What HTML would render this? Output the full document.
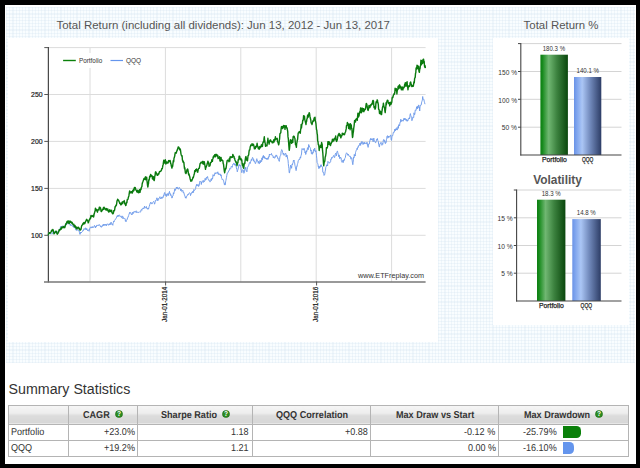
<!DOCTYPE html>
<html><head><meta charset="utf-8"><title>Total Return</title>
<style>
html,body{margin:0;padding:0}
body{width:640px;height:468px;background:#000;position:relative;overflow:hidden;font-family:"Liberation Sans",sans-serif;color:#333}
.abs{position:absolute}
#inner{left:5px;top:5px;width:631px;height:459px;background:#fff}
#grid{left:6px;top:7px;width:629px;height:356px;background-color:#f9fdff;
 background-image:repeating-linear-gradient(90deg,rgba(206,224,238,.25) 0,rgba(206,224,238,.25) 1.2px,transparent 1.2px,transparent 3.2px),
 repeating-linear-gradient(180deg,rgba(206,224,238,.25) 0,rgba(206,224,238,.25) 1.2px,transparent 1.2px,transparent 3.2px)}
#p1{left:7.5px;top:37.5px;width:430px;height:304.5px;background:#fff}
#p2{left:493.3px;top:37.7px;width:135.3px;height:287.5px;background:#fff}
.t{white-space:nowrap;color:#555;font-size:11.43px;line-height:14px}
#t1{left:56.5px;top:18.3px;font-size:11.47px}
#t2{left:523.6px;top:18.3px}
#t3{left:533.2px;top:172.5px;font-weight:bold;font-size:11.9px;color:#555}
#h{left:8.6px;top:380.3px;font-size:14.23px;line-height:18px;color:#333;white-space:nowrap}
table{position:absolute;left:7.5px;top:404.5px;border-collapse:collapse;font-size:9.06px;color:#333;table-layout:fixed;width:620.8px}
td,th{border:1px solid #b4b4b4;padding:0 2.6px 0 2.8px;height:15.1px;line-height:15px;white-space:nowrap;overflow:hidden;text-align:right;font-weight:normal}
th{height:18.6px;line-height:18.6px;text-align:center;font-weight:bold;font-size:9.08px;color:#333;background:linear-gradient(#f6f6f6 0,#ececec 45%,#dcdcdc 55%,#d6d6d6 100%)}
td.l{text-align:left}
.s{display:inline-block;transform:scaleY(1.1) rotate(0.03deg);transform-origin:50% 60%}
.q{display:inline-block;vertical-align:-0.6px;margin-left:5px}
.bar{display:inline-block;height:11.4px;vertical-align:-2.4px;margin-left:6.1px;border-radius:0 4.5px 4.5px 0}
td.d{text-align:left;padding-left:23.8px}
</style></head><body>
<div id="inner" class="abs"></div>
<div id="grid" class="abs"></div>
<div id="p1" class="abs"></div>
<div id="p2" class="abs"></div>
<div id="t1" class="abs t">Total Return (including all dividends): Jun 13, 2012 - Jun 13, 2017</div>
<div id="t2" class="abs t">Total Return %</div>
<div id="t3" class="abs t">Volatility</div>
<svg class="abs" style="left:0;top:0" width="640" height="468" viewBox="0 0 640 468" font-family="Liberation Sans, sans-serif">
<defs>
<linearGradient id="gg" x1="0" x2="1" y1="0" y2="0"><stop offset="0" stop-color="#0d7f12"/><stop offset="0.07" stop-color="#15891b"/><stop offset="0.3" stop-color="#70b772"/><stop offset="0.6" stop-color="#3c823f"/><stop offset="1" stop-color="#0a470d"/></linearGradient>
<linearGradient id="bg" x1="0" x2="1" y1="0" y2="0"><stop offset="0" stop-color="#6a92e6"/><stop offset="0.07" stop-color="#789fec"/><stop offset="0.3" stop-color="#abc6f5"/><stop offset="0.6" stop-color="#7088ba"/><stop offset="1" stop-color="#2d3d66"/></linearGradient>
</defs>
<line x1="90.0" y1="47.6" x2="90.0" y2="282" stroke="#dcdcdc" stroke-width="1"/>
<line x1="165.4" y1="47.6" x2="165.4" y2="282" stroke="#dcdcdc" stroke-width="1"/>
<line x1="240.8" y1="47.6" x2="240.8" y2="282" stroke="#dcdcdc" stroke-width="1"/>
<line x1="316.2" y1="47.6" x2="316.2" y2="282" stroke="#dcdcdc" stroke-width="1"/>
<line x1="391.6" y1="47.6" x2="391.6" y2="282" stroke="#dcdcdc" stroke-width="1"/>
<line x1="48" y1="47.6" x2="425.6" y2="47.6" stroke="#dcdcdc" stroke-width="1"/>
<line x1="48" y1="94.5" x2="425.6" y2="94.5" stroke="#dcdcdc" stroke-width="1"/>
<line x1="48" y1="141.4" x2="425.6" y2="141.4" stroke="#dcdcdc" stroke-width="1"/>
<line x1="48" y1="188.4" x2="425.6" y2="188.4" stroke="#dcdcdc" stroke-width="1"/>
<line x1="48" y1="235.3" x2="425.6" y2="235.3" stroke="#dcdcdc" stroke-width="1"/>
<rect x="58" y="53" width="88" height="15" fill="#fff"/>
<line x1="48.4" y1="47" x2="48.4" y2="282.5" stroke="#4a4a4a" stroke-width="1.25"/>
<line x1="44" y1="281.9" x2="425.6" y2="281.9" stroke="#777" stroke-width="1.5"/>
<line x1="44.3" y1="47.6" x2="48" y2="47.6" stroke="#555" stroke-width="1"/>
<line x1="44.3" y1="94.5" x2="48" y2="94.5" stroke="#555" stroke-width="1"/>
<line x1="44.3" y1="141.4" x2="48" y2="141.4" stroke="#555" stroke-width="1"/>
<line x1="44.3" y1="188.4" x2="48" y2="188.4" stroke="#555" stroke-width="1"/>
<line x1="44.3" y1="235.3" x2="48" y2="235.3" stroke="#555" stroke-width="1"/>
<text x="42.6" y="97.0" font-size="7" text-anchor="end" fill="#222" stroke="#222" stroke-width="0.2" textLength="11.5" lengthAdjust="spacingAndGlyphs">250</text>
<text x="42.6" y="143.9" font-size="7" text-anchor="end" fill="#222" stroke="#222" stroke-width="0.2" textLength="11.5" lengthAdjust="spacingAndGlyphs">200</text>
<text x="42.6" y="190.9" font-size="7" text-anchor="end" fill="#222" stroke="#222" stroke-width="0.2" textLength="11.5" lengthAdjust="spacingAndGlyphs">150</text>
<text x="42.6" y="237.8" font-size="7" text-anchor="end" fill="#222" stroke="#222" stroke-width="0.2" textLength="11.5" lengthAdjust="spacingAndGlyphs">100</text>
<line x1="165.6" y1="281.5" x2="165.6" y2="285.5" stroke="#555" stroke-width="1"/>
<text transform="translate(167.4,322) rotate(-90)" font-size="7" fill="#222" stroke="#222" stroke-width="0.2" textLength="35.3" lengthAdjust="spacingAndGlyphs">Jan-01-2014</text>
<line x1="316.6" y1="281.5" x2="316.6" y2="285.5" stroke="#555" stroke-width="1"/>
<text transform="translate(318.4,322) rotate(-90)" font-size="7" fill="#222" stroke="#222" stroke-width="0.2" textLength="35.3" lengthAdjust="spacingAndGlyphs">Jan-01-2016</text>
<line x1="63.1" y1="60.5" x2="75.8" y2="60.5" stroke="#0a800a" stroke-width="1.4"/>
<text x="78.9" y="63.4" font-size="7.2" fill="#333" textLength="23.4" lengthAdjust="spacingAndGlyphs">Portfolio</text>
<line x1="110.5" y1="60.5" x2="123" y2="60.5" stroke="#6495ed" stroke-width="1.2"/>
<text x="126" y="63.4" font-size="7.2" fill="#333" textLength="15" lengthAdjust="spacingAndGlyphs">QQQ</text>
<text x="358" y="278.2" font-size="7" fill="#333" textLength="66" lengthAdjust="spacingAndGlyphs">www.ETFreplay.com</text>
<path d="M48.0,235.3 48.3,235.3 48.6,234.0 48.9,233.2 49.2,232.4 49.5,232.7 49.8,232.8 50.1,232.8 50.4,233.7 50.7,233.9 51.0,233.6 51.3,233.8 51.6,233.6 51.9,233.6 52.2,233.8 52.5,233.8 52.8,232.8 53.1,231.9 53.4,233.1 53.7,232.7 54.0,233.0 54.3,231.4 54.6,231.5 54.9,231.8 55.2,231.2 55.5,231.5 55.8,232.4 56.1,232.9 56.4,233.4 56.7,232.3 57.0,231.6 57.3,232.5 57.6,233.1 57.9,232.7 58.2,231.2 58.5,231.6 58.8,231.3 59.1,230.8 59.4,229.6 59.7,229.3 60.0,229.1 60.3,227.9 60.6,226.4 60.9,226.8 61.2,226.9 61.5,226.7 61.8,227.0 62.1,226.2 62.4,226.1 62.7,225.9 63.0,226.3 63.3,226.9 63.6,226.0 63.9,226.9 64.2,226.9 64.5,226.3 64.8,225.8 65.1,226.2 65.4,225.1 65.7,224.6 66.0,223.7 66.3,224.2 66.6,224.8 66.9,224.3 67.2,224.0 67.5,223.3 67.8,223.2 68.1,222.1 68.4,223.5 68.7,223.3 69.0,222.9 69.3,223.1 69.6,223.3 69.9,224.6 70.2,225.3 70.5,224.2 70.8,225.4 71.1,225.9 71.4,225.4 71.7,224.8 72.0,225.1 72.3,225.5 72.6,226.3 72.9,226.4 73.2,225.5 73.5,226.8 73.8,226.4 74.1,227.9 74.4,227.3 74.7,227.7 75.0,227.9 75.3,228.3 75.6,229.8 75.9,230.2 76.2,230.4 76.5,230.4 76.8,229.4 77.1,229.7 77.4,229.8 77.7,229.7 78.0,230.5 78.3,230.2 78.6,230.6 78.9,231.0 79.2,230.9 79.5,232.8 79.8,234.2 80.1,234.4 80.4,233.9 80.7,232.0 81.0,232.6 81.3,233.0 81.6,232.2 81.9,231.9 82.2,231.7 82.5,231.5 82.8,230.4 83.1,230.8 83.4,230.7 83.7,229.2 84.0,229.3 84.3,228.6 84.6,229.0 84.9,229.5 85.2,228.7 85.5,227.8 85.8,229.4 86.1,229.3 86.4,229.9 86.7,228.4 87.0,229.3 87.3,230.1 87.6,230.7 87.9,229.8 88.2,229.9 88.5,229.9 88.8,230.8 89.1,231.3 89.4,230.3 89.7,228.5 90.0,228.5 90.3,227.2 90.6,227.1 90.9,227.0 91.2,227.8 91.5,227.8 91.8,226.8 92.1,226.9 92.4,227.7 92.7,226.7 93.0,226.8 93.3,227.3 93.6,227.5 93.9,227.1 94.2,225.9 94.5,225.4 94.8,226.2 95.1,226.5 95.4,227.9 95.7,226.3 96.0,226.9 96.3,226.9 96.6,225.3 96.9,225.2 97.2,225.7 97.5,225.4 97.8,225.4 98.1,225.7 98.4,224.9 98.7,225.4 99.0,224.8 99.3,224.5 99.6,225.2 99.9,225.0 100.2,225.7 100.5,226.9 100.8,226.6 101.1,226.5 101.4,227.3 101.7,226.4 102.0,226.8 102.3,225.3 102.6,225.8 102.9,225.1 103.2,224.4 103.5,225.6 103.8,224.2 104.1,225.2 104.4,225.0 104.7,225.4 105.0,224.0 105.3,224.9 105.6,225.3 105.9,224.5 106.2,224.2 106.5,225.7 106.8,224.8 107.1,224.2 107.4,223.8 107.7,224.3 108.0,224.5 108.3,224.4 108.6,225.3 108.9,224.4 109.2,224.5 109.5,225.0 109.8,223.5 110.1,224.1 110.4,224.6 110.7,222.7 111.0,222.1 111.3,222.6 111.6,222.6 111.9,224.5 112.2,224.1 112.5,224.9 112.8,225.3 113.1,223.1 113.4,222.7 113.7,221.1 114.0,221.9 114.3,220.7 114.6,220.2 114.9,219.8 115.2,219.8 115.5,219.0 115.8,218.7 116.1,218.0 116.4,217.9 116.7,216.8 117.0,216.9 117.3,215.4 117.6,215.6 117.9,217.0 118.2,216.0 118.5,215.0 118.8,215.8 119.1,215.3 119.4,214.8 119.7,215.3 120.0,216.6 120.3,216.9 120.6,216.7 120.9,216.2 121.2,216.1 121.5,217.7 121.8,217.6 122.1,216.9 122.4,215.9 122.7,216.2 123.0,218.9 123.3,217.5 123.6,217.8 123.9,218.2 124.2,218.3 124.5,218.7 124.8,218.4 125.1,218.8 125.4,221.1 125.7,220.6 126.0,221.8 126.3,220.1 126.6,219.8 126.9,219.6 127.2,219.6 127.5,217.7 127.8,217.7 128.1,217.2 128.4,215.8 128.7,215.6 129.0,214.2 129.3,213.3 129.6,213.6 129.9,212.0 130.2,213.2 130.5,213.1 130.8,212.8 131.1,213.4 131.4,214.5 131.7,214.1 132.0,214.9 132.3,213.2 132.6,212.3 132.9,213.7 133.2,213.2 133.5,213.2 133.8,211.7 134.1,212.1 134.4,211.7 134.7,211.6 135.0,211.4 135.3,212.3 135.6,211.5 135.9,211.1 136.2,210.8 136.5,212.6 136.8,212.1 137.1,211.8 137.4,212.0 137.7,212.5 138.0,212.2 138.3,212.7 138.6,212.5 138.9,212.3 139.2,211.8 139.5,212.2 139.8,211.9 140.1,212.1 140.4,212.1 140.7,211.9 141.0,209.8 141.3,210.0 141.6,209.6 141.9,210.3 142.2,208.7 142.5,208.4 142.8,208.4 143.1,208.1 143.4,208.7 143.7,207.9 144.0,208.5 144.3,207.0 144.6,206.1 144.9,207.9 145.2,207.9 145.5,207.9 145.8,207.5 146.1,207.6 146.4,206.5 146.7,208.1 147.0,207.9 147.3,209.1 147.6,209.2 147.9,208.1 148.2,208.4 148.5,209.2 148.8,207.9 149.1,206.7 149.4,206.1 149.7,204.8 150.0,203.7 150.3,203.1 150.6,202.4 150.9,203.4 151.2,202.6 151.5,203.7 151.8,204.0 152.1,204.0 152.4,203.5 152.7,202.5 153.0,202.2 153.3,201.8 153.6,201.4 153.9,202.2 154.2,202.4 154.5,204.2 154.8,203.5 155.1,202.3 155.4,200.5 155.7,201.0 156.0,200.6 156.3,199.8 156.6,199.1 156.9,197.8 157.2,199.2 157.5,199.1 157.8,200.9 158.1,199.4 158.4,198.6 158.7,199.4 159.0,198.5 159.3,198.1 159.6,197.3 159.9,196.7 160.2,198.0 160.5,198.3 160.8,199.0 161.1,197.8 161.4,197.8 161.7,197.2 162.0,198.5 162.3,196.8 162.6,197.2 162.9,197.5 163.2,197.4 163.5,195.3 163.8,195.7 164.1,194.1 164.4,193.2 164.7,192.5 165.0,194.4 165.3,195.6 165.6,194.3 165.9,193.8 166.2,194.0 166.5,196.5 166.8,196.2 167.1,195.0 167.4,193.7 167.7,193.7 168.0,194.9 168.3,195.6 168.6,194.0 168.9,192.8 169.2,192.3 169.5,191.4 169.8,193.8 170.1,193.4 170.4,195.4 170.7,194.3 171.0,194.6 171.3,196.3 171.6,196.5 171.9,198.1 172.2,197.9 172.5,196.0 172.8,196.0 173.1,195.6 173.4,192.7 173.7,194.0 174.0,192.8 174.3,191.9 174.6,189.1 174.9,189.1 175.2,189.3 175.5,190.4 175.8,188.6 176.1,188.3 176.4,187.1 176.7,188.0 177.0,188.7 177.3,187.2 177.6,187.4 177.9,188.2 178.2,189.3 178.5,189.0 178.8,188.3 179.1,187.5 179.4,187.5 179.7,187.8 180.0,188.8 180.3,189.0 180.6,190.7 180.9,190.2 181.2,189.1 181.5,190.9 181.8,191.5 182.1,191.3 182.4,190.9 182.7,190.2 183.0,190.9 183.3,193.0 183.6,192.7 183.9,192.6 184.2,194.1 184.5,195.0 184.8,195.9 185.1,196.7 185.4,197.9 185.7,196.9 186.0,198.3 186.3,196.5 186.6,196.7 186.9,196.0 187.2,195.4 187.5,195.4 187.8,194.2 188.1,194.7 188.4,194.7 188.7,194.0 189.0,193.2 189.3,192.8 189.6,192.8 189.9,193.0 190.2,193.2 190.5,195.6 190.8,194.6 191.1,194.3 191.4,192.9 191.7,192.4 192.0,192.4 192.3,192.6 192.6,191.5 192.9,193.0 193.2,191.6 193.5,192.2 193.8,189.5 194.1,190.2 194.4,190.5 194.7,190.1 195.0,190.0 195.3,189.3 195.6,188.6 195.9,186.3 196.2,186.2 196.5,184.4 196.8,185.9 197.1,186.0 197.4,185.5 197.7,184.6 198.0,184.3 198.3,186.1 198.6,186.5 198.9,184.9 199.2,185.3 199.5,182.8 199.8,181.4 200.1,182.0 200.4,181.7 200.7,181.6 201.0,182.1 201.3,184.5 201.6,181.9 201.9,181.5 202.2,181.3 202.5,180.8 202.8,181.4 203.1,182.6 203.4,180.5 203.7,181.2 204.0,181.2 204.3,181.8 204.6,180.6 204.9,179.5 205.2,178.3 205.5,180.1 205.8,180.2 206.1,179.9 206.4,177.4 206.7,178.0 207.0,177.6 207.3,176.7 207.6,176.5 207.9,178.5 208.2,179.4 208.5,179.5 208.8,180.3 209.1,179.9 209.4,180.6 209.7,181.2 210.0,182.1 210.3,181.5 210.6,180.6 210.9,179.9 211.2,178.8 211.5,180.5 211.8,179.1 212.1,178.2 212.4,179.1 212.7,178.1 213.0,174.7 213.3,175.2 213.6,175.0 213.9,176.1 214.2,175.9 214.5,175.2 214.8,173.2 215.1,172.7 215.4,173.5 215.7,174.0 216.0,172.7 216.3,172.8 216.6,172.8 216.9,173.1 217.2,173.4 217.5,172.9 217.8,171.8 218.1,173.7 218.4,174.6 218.7,173.3 219.0,174.2 219.3,174.2 219.6,174.6 219.9,174.7 220.2,173.9 220.5,175.0 220.8,175.9 221.1,174.8 221.4,177.1 221.7,178.2 222.0,178.8 222.3,179.9 222.6,179.8 222.9,179.5 223.2,179.7 223.5,180.3 223.8,181.9 224.1,183.0 224.4,184.6 224.7,183.5 225.0,185.1 225.3,184.7 225.6,181.8 225.9,180.4 226.2,178.9 226.5,177.3 226.8,175.4 227.1,174.0 227.4,172.8 227.7,172.9 228.0,172.4 228.3,172.2 228.6,170.7 228.9,170.6 229.2,170.3 229.5,170.3 229.8,168.4 230.1,168.8 230.4,169.1 230.7,168.6 231.0,167.3 231.3,166.4 231.6,166.1 231.9,166.6 232.2,167.3 232.5,165.6 232.8,164.3 233.1,164.6 233.4,164.2 233.7,163.2 234.0,163.2 234.3,164.0 234.6,165.2 234.9,163.9 235.2,163.8 235.5,165.4 235.8,164.5 236.1,166.0 236.4,168.0 236.7,169.2 237.0,169.8 237.3,171.8 237.6,170.5 237.9,169.9 238.2,167.8 238.5,168.1 238.8,164.8 239.1,164.3 239.4,164.5 239.7,165.9 240.0,165.1 240.3,166.2 240.6,165.7 240.9,167.0 241.2,170.2 241.5,170.5 241.8,172.7 242.1,170.2 242.4,170.3 242.7,169.7 243.0,170.2 243.3,170.1 243.6,172.4 243.9,173.3 244.2,172.8 244.5,171.9 244.8,168.6 245.1,168.0 245.4,169.2 245.7,167.1 246.0,169.3 246.3,171.1 246.6,171.1 246.9,171.8 247.2,169.6 247.5,167.4 247.8,167.2 248.1,166.4 248.4,165.7 248.7,165.6 249.0,164.2 249.3,163.4 249.6,162.9 249.9,162.2 250.2,163.5 250.5,162.3 250.8,161.2 251.1,160.3 251.4,159.3 251.7,160.6 252.0,159.6 252.3,157.8 252.6,157.4 252.9,158.1 253.2,158.6 253.5,160.7 253.8,159.7 254.1,161.4 254.4,162.0 254.7,161.4 255.0,162.8 255.3,163.6 255.6,163.5 255.9,162.1 256.2,161.9 256.5,159.4 256.8,158.7 257.1,159.8 257.4,161.1 257.7,161.1 258.0,161.1 258.3,163.3 258.6,161.5 258.9,162.3 259.2,163.5 259.5,163.7 259.8,161.9 260.1,160.3 260.4,162.7 260.7,162.1 261.0,160.6 261.3,160.8 261.6,161.5 261.9,157.9 262.2,159.9 262.5,159.8 262.8,156.6 263.1,157.9 263.4,155.4 263.7,157.1 264.0,156.5 264.3,158.2 264.6,156.7 264.9,157.2 265.2,158.8 265.5,158.2 265.8,158.3 266.1,159.1 266.4,159.4 266.7,158.1 267.0,159.0 267.3,159.1 267.6,158.4 267.9,159.5 268.2,157.6 268.5,158.3 268.8,156.5 269.1,156.9 269.4,154.0 269.7,154.9 270.0,154.6 270.3,154.5 270.6,154.5 270.9,154.9 271.2,154.8 271.5,153.5 271.8,154.7 272.1,155.4 272.4,155.8 272.7,155.5 273.0,156.5 273.3,157.9 273.6,157.4 273.9,156.6 274.2,158.1 274.5,158.0 274.8,157.8 275.1,157.8 275.4,156.1 275.7,155.6 276.0,156.5 276.3,154.9 276.6,155.2 276.9,156.2 277.2,156.9 277.5,156.9 277.8,158.5 278.1,158.2 278.4,159.4 278.7,160.5 279.0,160.8 279.3,161.4 279.6,159.3 279.9,156.9 280.2,155.7 280.5,155.4 280.8,155.3 281.1,151.5 281.4,150.7 281.7,149.6 282.0,149.9 282.3,150.8 282.6,152.5 282.9,152.9 283.2,154.4 283.5,153.0 283.8,154.8 284.1,155.4 284.4,154.7 284.7,154.9 285.0,153.9 285.3,153.1 285.6,153.5 285.9,153.5 286.2,157.1 286.5,154.9 286.8,156.4 287.1,155.4 287.4,156.7 287.7,159.2 288.0,159.9 288.3,163.6 288.6,166.8 288.9,168.2 289.2,172.8 289.5,172.9 289.8,170.7 290.1,169.6 290.4,165.9 290.7,165.1 291.0,166.6 291.3,166.3 291.6,168.3 291.9,165.4 292.2,164.0 292.5,164.7 292.8,162.9 293.1,162.6 293.4,160.5 293.7,160.9 294.0,160.0 294.3,162.5 294.6,162.4 294.9,165.2 295.2,166.3 295.5,167.9 295.8,169.1 296.1,170.6 296.4,169.7 296.7,166.4 297.0,166.7 297.3,164.8 297.6,163.5 297.9,163.2 298.2,160.6 298.5,160.5 298.8,160.2 299.1,159.3 299.4,159.9 299.7,159.3 300.0,158.0 300.3,157.0 300.6,158.1 300.9,155.9 301.2,155.3 301.5,154.0 301.8,150.1 302.1,148.5 302.4,149.3 302.7,149.7 303.0,150.0 303.3,149.9 303.6,149.9 303.9,148.2 304.2,148.5 304.5,150.5 304.8,150.7 305.1,153.0 305.4,151.8 305.7,154.5 306.0,153.8 306.3,150.7 306.6,152.0 306.9,151.0 307.2,149.7 307.5,147.7 307.8,147.8 308.1,149.8 308.4,148.0 308.7,144.5 309.0,146.0 309.3,146.0 309.6,147.1 309.9,147.4 310.2,147.7 310.5,148.4 310.8,151.1 311.1,150.0 311.4,153.6 311.7,152.8 312.0,152.5 312.3,154.3 312.6,154.0 312.9,151.9 313.2,152.6 313.5,149.8 313.8,149.3 314.1,150.9 314.4,149.7 314.7,148.1 315.0,150.3 315.3,151.9 315.6,151.9 315.9,150.5 316.2,152.5 316.5,155.8 316.8,158.8 317.1,162.4 317.4,163.0 317.7,163.6 318.0,164.7 318.3,166.9 318.6,166.2 318.9,168.7 319.2,166.4 319.5,168.0 319.8,166.8 320.1,167.1 320.4,167.1 320.7,164.9 321.0,164.9 321.3,164.8 321.6,166.5 321.9,166.3 322.2,167.0 322.5,167.1 322.8,172.1 323.1,172.0 323.4,172.7 323.7,172.5 324.0,175.4 324.3,174.9 324.6,174.9 324.9,173.4 325.2,171.1 325.5,170.0 325.8,167.2 326.1,166.8 326.4,166.1 326.7,164.8 327.0,165.3 327.3,164.9 327.6,166.0 327.9,161.4 328.2,162.1 328.5,162.0 328.8,162.3 329.1,163.1 329.4,163.2 329.7,162.7 330.0,161.9 330.3,162.1 330.6,161.7 330.9,159.0 331.2,159.3 331.5,158.0 331.8,157.3 332.1,158.1 332.4,157.9 332.7,157.7 333.0,156.4 333.3,156.4 333.6,155.5 333.9,156.2 334.2,156.6 334.5,157.6 334.8,157.2 335.1,154.7 335.4,154.0 335.7,153.2 336.0,154.0 336.3,155.9 336.6,155.1 336.9,151.7 337.2,151.4 337.5,151.1 337.8,152.7 338.1,153.5 338.4,154.4 338.7,156.7 339.0,155.2 339.3,155.1 339.6,158.5 339.9,158.6 340.2,158.1 340.5,157.2 340.8,158.0 341.1,157.9 341.4,160.6 341.7,161.2 342.0,162.3 342.3,161.5 342.6,160.7 342.9,160.2 343.2,162.6 343.5,159.8 343.8,160.6 344.1,160.7 344.4,160.4 344.7,158.6 345.0,158.2 345.3,157.7 345.6,155.9 345.9,154.3 346.2,153.6 346.5,152.8 346.8,153.3 347.1,153.3 347.4,153.8 347.7,155.0 348.0,155.4 348.3,154.2 348.6,155.2 348.9,155.5 349.2,156.3 349.5,156.2 349.8,156.7 350.1,156.4 350.4,156.3 350.7,158.2 351.0,159.2 351.3,158.4 351.6,157.6 351.9,158.2 352.2,161.0 352.5,163.1 352.8,164.7 353.1,162.7 353.4,159.8 353.7,157.0 354.0,157.7 354.3,154.4 354.6,156.2 354.9,155.1 355.2,156.0 355.5,152.5 355.8,151.5 356.1,150.4 356.4,150.3 356.7,149.5 357.0,148.4 357.3,149.5 357.6,147.6 357.9,146.8 358.2,147.4 358.5,146.0 358.8,145.4 359.1,145.8 359.4,144.9 359.7,143.4 360.0,143.9 360.3,143.6 360.6,145.4 360.9,142.7 361.2,143.8 361.5,142.0 361.8,141.5 362.1,141.5 362.4,142.2 362.7,143.2 363.0,144.5 363.3,142.5 363.6,143.9 363.9,144.1 364.2,144.0 364.5,142.3 364.8,143.6 365.1,143.0 365.4,143.3 365.7,142.8 366.0,143.5 366.3,143.9 366.6,143.9 366.9,142.2 367.2,142.7 367.5,145.3 367.8,144.8 368.1,147.4 368.4,144.1 368.7,144.3 369.0,143.8 369.3,144.0 369.6,142.1 369.9,140.6 370.2,139.6 370.5,138.5 370.8,140.1 371.1,139.4 371.4,138.7 371.7,139.9 372.0,138.9 372.3,138.9 372.6,138.8 372.9,141.2 373.2,141.8 373.5,140.2 373.8,138.1 374.1,139.7 374.4,140.4 374.7,141.3 375.0,142.1 375.3,141.8 375.6,142.7 375.9,142.5 376.2,141.5 376.5,140.1 376.8,139.3 377.1,140.0 377.4,138.5 377.7,140.2 378.0,140.9 378.3,141.3 378.6,144.4 378.9,145.6 379.2,146.8 379.5,146.9 379.8,143.8 380.1,143.7 380.4,143.5 380.7,143.5 381.0,142.3 381.3,144.2 381.6,144.8 381.9,145.3 382.2,144.8 382.5,143.5 382.8,144.3 383.1,141.8 383.4,140.0 383.7,139.5 384.0,139.6 384.3,141.3 384.6,140.5 384.9,142.7 385.2,143.5 385.5,143.6 385.8,141.7 386.1,142.4 386.4,139.8 386.7,138.9 387.0,136.1 387.3,135.9 387.6,135.7 387.9,138.2 388.2,137.9 388.5,136.0 388.8,137.0 389.1,137.3 389.4,136.5 389.7,136.5 390.0,136.1 390.3,135.6 390.6,134.9 390.9,137.1 391.2,139.9 391.5,140.4 391.8,137.8 392.1,135.8 392.4,135.0 392.7,135.4 393.0,134.2 393.3,132.4 393.6,132.7 393.9,131.9 394.2,132.2 394.5,131.0 394.8,129.1 395.1,130.0 395.4,130.8 395.7,128.8 396.0,128.9 396.3,129.9 396.6,128.6 396.9,127.6 397.2,130.1 397.5,129.3 397.8,129.0 398.1,126.4 398.4,128.2 398.7,124.8 399.0,124.5 399.3,125.4 399.6,125.9 399.9,123.0 400.2,121.9 400.5,122.1 400.8,119.2 401.1,121.1 401.4,121.5 401.7,120.3 402.0,120.8 402.3,121.1 402.6,120.5 402.9,120.3 403.2,121.2 403.5,119.1 403.8,119.1 404.1,118.2 404.4,119.8 404.7,118.5 405.0,119.1 405.3,118.8 405.6,118.6 405.9,120.4 406.2,119.1 406.5,120.6 406.8,120.6 407.1,121.3 407.4,119.9 407.7,120.8 408.0,120.7 408.3,118.7 408.6,118.8 408.9,118.2 409.2,117.8 409.5,119.0 409.8,116.8 410.1,114.6 410.4,113.6 410.7,115.3 411.0,115.9 411.3,117.2 411.6,118.6 411.9,120.7 412.2,120.0 412.5,119.4 412.8,117.1 413.1,117.3 413.4,117.8 413.7,117.4 414.0,112.8 414.3,114.1 414.6,114.8 414.9,113.7 415.2,110.1 415.5,109.9 415.8,110.5 416.1,110.2 416.4,108.1 416.7,106.9 417.0,108.6 417.3,106.2 417.6,108.6 417.9,107.5 418.2,107.2 418.5,104.9 418.8,105.3 419.1,108.0 419.4,107.0 419.7,111.0 420.0,107.0 420.3,105.2 420.6,105.4 420.9,105.4 421.2,105.1 421.5,102.9 421.8,101.7 422.1,100.9 422.4,99.8 422.7,96.5 423.0,99.5 423.3,99.2 423.6,99.2 423.9,99.3 424.2,101.2 424.5,102.3 425.0,104.2" fill="none" stroke="#6f9bea" stroke-width="0.95" stroke-linejoin="round"/>
<path d="M48.0,235.3 48.3,234.8 48.6,233.8 48.9,233.3 49.2,232.6 49.5,232.7 49.8,233.3 50.1,233.0 50.4,233.0 50.7,232.4 51.0,232.1 51.3,231.7 51.6,230.1 51.9,231.0 52.2,230.9 52.5,230.7 52.8,229.4 53.1,229.8 53.4,231.0 53.7,232.3 54.0,233.8 54.3,233.4 54.6,233.3 54.9,232.4 55.2,232.4 55.5,232.2 55.8,231.2 56.1,232.1 56.4,231.4 56.7,232.8 57.0,233.6 57.3,234.2 57.6,233.6 57.9,233.1 58.2,233.0 58.5,232.2 58.8,231.1 59.1,229.9 59.4,229.7 59.7,230.6 60.0,229.4 60.3,229.5 60.6,229.4 60.9,228.0 61.2,228.3 61.5,229.0 61.8,227.0 62.1,227.4 62.4,227.6 62.7,227.1 63.0,227.7 63.3,227.5 63.6,226.5 63.9,227.5 64.2,227.7 64.5,227.5 64.8,227.5 65.1,226.4 65.4,225.6 65.7,224.0 66.0,224.4 66.3,223.4 66.6,222.9 66.9,221.8 67.2,221.3 67.5,221.3 67.8,222.8 68.1,221.1 68.4,221.0 68.7,222.2 69.0,223.5 69.3,223.4 69.6,221.8 69.9,220.9 70.2,222.4 70.5,222.0 70.8,221.5 71.1,222.6 71.4,222.9 71.7,222.2 72.0,222.2 72.3,222.8 72.6,224.1 72.9,224.2 73.2,224.5 73.5,225.0 73.8,224.1 74.1,225.9 74.4,226.6 74.7,226.8 75.0,225.5 75.3,226.2 75.6,227.7 75.9,226.7 76.2,227.7 76.5,228.9 76.8,227.5 77.1,228.7 77.4,228.2 77.7,227.5 78.0,227.3 78.3,227.3 78.6,227.6 78.9,228.7 79.2,228.2 79.5,228.6 79.8,230.0 80.1,230.2 80.4,229.5 80.7,229.7 81.0,229.5 81.3,227.7 81.6,225.9 81.9,225.6 82.2,225.0 82.5,224.1 82.8,224.4 83.1,223.1 83.4,224.1 83.7,222.7 84.0,222.4 84.3,223.2 84.6,223.8 84.9,223.4 85.2,222.5 85.5,221.7 85.8,221.0 86.1,220.7 86.4,219.7 86.7,219.3 87.0,220.0 87.3,220.1 87.6,220.9 87.9,221.3 88.2,222.8 88.5,222.3 88.8,221.2 89.1,220.2 89.4,219.7 89.7,219.7 90.0,218.4 90.3,217.9 90.6,218.5 90.9,215.6 91.2,215.5 91.5,216.3 91.8,216.6 92.1,216.5 92.4,215.8 92.7,216.3 93.0,216.1 93.3,215.3 93.6,217.0 93.9,215.6 94.2,213.7 94.5,212.8 94.8,211.8 95.1,211.1 95.4,208.2 95.7,208.6 96.0,210.3 96.3,209.3 96.6,209.9 96.9,211.0 97.2,211.4 97.5,212.2 97.8,209.8 98.1,209.7 98.4,209.4 98.7,209.8 99.0,210.1 99.3,207.1 99.6,208.7 99.9,207.1 100.2,208.3 100.5,207.9 100.8,209.5 101.1,211.4 101.4,211.6 101.7,211.0 102.0,210.9 102.3,210.0 102.6,209.1 102.9,209.7 103.2,209.1 103.5,207.5 103.8,209.2 104.1,207.2 104.4,208.4 104.7,208.1 105.0,208.5 105.3,209.3 105.6,209.4 105.9,210.0 106.2,208.8 106.5,208.6 106.8,210.1 107.1,209.5 107.4,209.3 107.7,208.9 108.0,210.9 108.3,211.3 108.6,212.0 108.9,210.5 109.2,210.7 109.5,209.8 109.8,210.8 110.1,211.7 110.4,210.1 110.7,211.3 111.0,211.2 111.3,211.1 111.6,210.1 111.9,212.7 112.2,213.0 112.5,213.1 112.8,213.9 113.1,213.2 113.4,213.2 113.7,210.8 114.0,211.0 114.3,210.7 114.6,210.1 114.9,208.0 115.2,206.4 115.5,206.8 115.8,205.8 116.1,204.9 116.4,205.2 116.7,203.5 117.0,200.8 117.3,200.9 117.6,199.3 117.9,200.4 118.2,200.3 118.5,200.1 118.8,200.7 119.1,201.9 119.4,202.0 119.7,203.3 120.0,202.8 120.3,203.7 120.6,204.5 120.9,205.0 121.2,203.5 121.5,204.4 121.8,202.6 122.1,202.8 122.4,201.8 122.7,203.5 123.0,201.9 123.3,201.9 123.6,201.5 123.9,201.1 124.2,200.6 124.5,201.8 124.8,203.9 125.1,203.7 125.4,204.5 125.7,205.5 126.0,205.4 126.3,203.2 126.6,202.3 126.9,202.7 127.2,199.9 127.5,199.1 127.8,199.5 128.1,198.7 128.4,197.1 128.7,196.6 129.0,195.2 129.3,192.8 129.6,191.0 129.9,191.3 130.2,193.0 130.5,192.4 130.8,192.1 131.1,192.2 131.4,191.7 131.7,192.8 132.0,192.4 132.3,193.1 132.6,190.6 132.9,191.7 133.2,190.9 133.5,189.2 133.8,190.6 134.1,189.9 134.4,187.5 134.7,187.6 135.0,188.3 135.3,187.6 135.6,189.1 135.9,189.9 136.2,190.4 136.5,190.6 136.8,191.8 137.1,192.0 137.4,192.1 137.7,190.3 138.0,192.1 138.3,192.8 138.6,191.6 138.9,190.8 139.2,192.5 139.5,189.7 139.8,190.5 140.1,192.2 140.4,189.2 140.7,189.1 141.0,189.7 141.3,187.6 141.6,187.0 141.9,186.6 142.2,183.7 142.5,182.7 142.8,181.8 143.1,181.2 143.4,180.3 143.7,179.6 144.0,178.4 144.3,178.4 144.6,179.4 144.9,178.8 145.2,177.5 145.5,176.8 145.8,179.8 146.1,179.2 146.4,178.9 146.7,177.3 147.0,180.9 147.3,183.1 147.6,186.0 147.9,187.0 148.2,184.7 148.5,183.5 148.8,179.7 149.1,180.1 149.4,178.6 149.7,176.1 150.0,176.1 150.3,176.9 150.6,174.5 150.9,174.6 151.2,175.7 151.5,176.3 151.8,176.1 152.1,175.7 152.4,178.8 152.7,179.1 153.0,177.2 153.3,176.7 153.6,179.7 153.9,180.2 154.2,180.6 154.5,178.9 154.8,176.0 155.1,175.4 155.4,172.2 155.7,171.8 156.0,172.2 156.3,173.7 156.6,173.3 156.9,174.2 157.2,175.4 157.5,175.2 157.8,175.2 158.1,174.6 158.4,173.6 158.7,174.1 159.0,173.4 159.3,172.0 159.6,171.5 159.9,171.7 160.2,171.5 160.5,171.4 160.8,171.0 161.1,170.9 161.4,170.3 161.7,168.7 162.0,168.8 162.3,168.6 162.6,167.2 162.9,165.2 163.2,164.4 163.5,161.9 163.8,160.1 164.1,161.8 164.4,161.4 164.7,163.1 165.0,161.8 165.3,159.8 165.6,160.9 165.9,164.1 166.2,163.3 166.5,162.0 166.8,162.3 167.1,163.1 167.4,163.1 167.7,162.3 168.0,163.1 168.3,162.2 168.6,160.7 168.9,160.5 169.2,161.2 169.5,160.9 169.8,161.8 170.1,160.5 170.4,161.6 170.7,163.6 171.0,163.8 171.3,166.0 171.6,166.8 171.9,168.1 172.2,165.7 172.5,166.9 172.8,165.1 173.1,162.1 173.4,160.5 173.7,161.8 174.0,158.2 174.3,157.4 174.6,156.6 174.9,155.0 175.2,152.6 175.5,152.9 175.8,152.8 176.1,153.2 176.4,152.5 176.7,150.9 177.0,150.9 177.3,150.1 177.6,149.0 177.9,148.1 178.2,146.9 178.5,148.1 178.8,147.2 179.1,147.8 179.4,149.2 179.7,148.5 180.0,150.0 180.3,149.2 180.6,150.9 180.9,153.3 181.2,155.0 181.5,155.5 181.8,156.2 182.1,155.8 182.4,159.9 182.7,160.6 183.0,162.1 183.3,161.2 183.6,162.5 183.9,162.4 184.2,166.2 184.5,168.7 184.8,167.7 185.1,170.3 185.4,173.0 185.7,172.6 186.0,173.5 186.3,172.6 186.6,171.8 186.9,169.9 187.2,169.7 187.5,169.0 187.8,169.3 188.1,171.0 188.4,173.4 188.7,174.9 189.0,173.9 189.3,175.3 189.6,176.2 189.9,177.5 190.2,179.0 190.5,180.0 190.8,181.2 191.1,180.0 191.4,180.4 191.7,181.0 192.0,180.3 192.3,179.4 192.6,178.8 192.9,177.3 193.2,177.7 193.5,176.9 193.8,175.7 194.1,174.3 194.4,173.8 194.7,170.7 195.0,170.9 195.3,171.6 195.6,169.8 195.9,170.5 196.2,170.2 196.5,168.9 196.8,170.1 197.1,170.8 197.4,172.1 197.7,172.2 198.0,170.9 198.3,169.1 198.6,168.7 198.9,168.1 199.2,168.2 199.5,167.2 199.8,165.3 200.1,163.5 200.4,163.7 200.7,163.1 201.0,162.3 201.3,162.7 201.6,162.2 201.9,162.4 202.2,162.7 202.5,161.5 202.8,163.7 203.1,161.4 203.4,162.3 203.7,162.5 204.0,164.3 204.3,161.8 204.6,163.3 204.9,165.5 205.2,167.3 205.5,169.3 205.8,167.3 206.1,167.2 206.4,166.2 206.7,165.7 207.0,164.6 207.3,163.1 207.6,162.9 207.9,161.1 208.2,163.5 208.5,162.3 208.8,163.6 209.1,166.3 209.4,165.1 209.7,165.3 210.0,165.7 210.3,164.2 210.6,162.4 210.9,162.4 211.2,162.3 211.5,162.0 211.8,159.8 212.1,161.4 212.4,161.4 212.7,159.1 213.0,158.2 213.3,156.6 213.6,157.7 213.9,155.8 214.2,156.5 214.5,155.4 214.8,154.6 215.1,155.8 215.4,156.8 215.7,155.6 216.0,154.3 216.3,155.4 216.6,154.7 216.9,154.7 217.2,156.2 217.5,156.8 217.8,155.5 218.1,158.6 218.4,157.4 218.7,158.2 219.0,157.3 219.3,158.0 219.6,156.7 219.9,160.5 220.2,161.4 220.5,159.0 220.8,157.9 221.1,157.5 221.4,160.5 221.7,159.8 222.0,160.1 222.3,160.1 222.6,160.3 222.9,161.1 223.2,163.7 223.5,164.2 223.8,166.9 224.1,169.4 224.4,171.6 224.7,172.7 225.0,170.5 225.3,169.9 225.6,168.2 225.9,168.8 226.2,167.3 226.5,165.0 226.8,162.9 227.1,161.0 227.4,160.1 227.7,160.1 228.0,160.6 228.3,160.6 228.6,160.4 228.9,161.7 229.2,158.8 229.5,158.3 229.8,161.1 230.1,156.8 230.4,156.7 230.7,157.3 231.0,157.4 231.3,157.6 231.6,156.8 231.9,157.1 232.2,156.7 232.5,157.3 232.8,154.4 233.1,155.0 233.4,156.5 233.7,156.2 234.0,156.3 234.3,158.5 234.6,158.2 234.9,159.7 235.2,160.7 235.5,161.0 235.8,162.1 236.1,162.5 236.4,162.0 236.7,163.9 237.0,165.7 237.3,164.4 237.6,163.1 237.9,162.6 238.2,159.7 238.5,159.4 238.8,159.7 239.1,156.1 239.4,156.1 239.7,156.4 240.0,158.7 240.3,158.6 240.6,159.5 240.9,158.5 241.2,159.3 241.5,160.5 241.8,159.8 242.1,163.7 242.4,165.3 242.7,163.8 243.0,166.7 243.3,167.5 243.6,168.3 243.9,167.0 244.2,163.7 244.5,163.0 244.8,163.7 245.1,160.8 245.4,158.5 245.7,156.8 246.0,156.6 246.3,158.2 246.6,160.1 246.9,159.4 247.2,158.9 247.5,160.8 247.8,157.7 248.1,155.6 248.4,155.4 248.7,154.7 249.0,151.9 249.3,150.0 249.6,150.2 249.9,149.5 250.2,146.7 250.5,146.3 250.8,145.0 251.1,145.7 251.4,145.0 251.7,144.5 252.0,143.8 252.3,144.9 252.6,145.5 252.9,144.0 253.2,145.4 253.5,144.4 253.8,145.4 254.1,146.9 254.4,148.8 254.7,147.6 255.0,147.9 255.3,148.7 255.6,146.4 255.9,147.1 256.2,146.3 256.5,146.9 256.8,145.2 257.1,143.3 257.4,145.3 257.7,146.7 258.0,146.6 258.3,148.6 258.6,148.2 258.9,148.1 259.2,149.2 259.5,146.8 259.8,146.6 260.1,147.0 260.4,147.8 260.7,146.6 261.0,146.5 261.3,145.0 261.6,145.2 261.9,146.6 262.2,144.1 262.5,146.3 262.8,143.0 263.1,142.2 263.4,141.6 263.7,142.0 264.0,138.9 264.3,136.8 264.6,140.2 264.9,142.1 265.2,143.1 265.5,146.3 265.8,145.0 266.1,145.2 266.4,145.7 266.7,144.9 267.0,145.9 267.3,142.6 267.6,142.3 267.9,138.2 268.2,141.7 268.5,141.2 268.8,142.4 269.1,144.1 269.4,141.8 269.7,140.9 270.0,140.4 270.3,139.9 270.6,140.0 270.9,141.6 271.2,141.5 271.5,141.6 271.8,141.4 272.1,142.7 272.4,142.7 272.7,142.0 273.0,142.8 273.3,142.0 273.6,140.0 273.9,142.1 274.2,141.4 274.5,139.1 274.8,140.4 275.1,139.7 275.4,136.8 275.7,139.3 276.0,138.3 276.3,138.8 276.6,139.0 276.9,139.3 277.2,138.3 277.5,141.6 277.8,142.2 278.1,142.6 278.4,144.1 278.7,144.9 279.0,143.6 279.3,140.6 279.6,138.7 279.9,134.1 280.2,133.3 280.5,133.1 280.8,132.6 281.1,129.0 281.4,126.8 281.7,128.2 282.0,126.4 282.3,127.1 282.6,128.5 282.9,126.8 283.2,127.8 283.5,125.5 283.8,125.9 284.1,125.6 284.4,125.7 284.7,127.0 285.0,129.4 285.3,126.5 285.6,125.8 285.9,127.1 286.2,125.8 286.5,127.5 286.8,128.4 287.1,127.8 287.4,130.0 287.7,131.2 288.0,136.9 288.3,138.5 288.6,142.5 288.9,146.4 289.2,150.3 289.5,148.9 289.8,145.6 290.1,141.9 290.4,139.8 290.7,141.0 291.0,140.5 291.3,141.4 291.6,143.3 291.9,142.8 292.2,139.6 292.5,142.4 292.8,142.4 293.1,136.7 293.4,136.4 293.7,136.2 294.0,136.2 294.3,137.1 294.6,137.8 294.9,138.4 295.2,141.2 295.5,144.6 295.8,144.5 296.1,145.8 296.4,147.3 296.7,143.2 297.0,142.2 297.3,140.2 297.6,139.2 297.9,135.9 298.2,133.1 298.5,132.9 298.8,132.9 299.1,131.8 299.4,131.8 299.7,132.4 300.0,132.8 300.3,133.2 300.6,129.8 300.9,128.5 301.2,124.4 301.5,127.9 301.8,124.9 302.1,123.9 302.4,123.6 302.7,120.2 303.0,120.6 303.3,119.3 303.6,115.6 303.9,116.4 304.2,118.6 304.5,116.2 304.8,119.6 305.1,120.6 305.4,122.0 305.7,123.1 306.0,124.5 306.3,121.7 306.6,121.4 306.9,118.8 307.2,118.7 307.5,115.7 307.8,114.9 308.1,117.3 308.4,116.3 308.7,115.0 309.0,113.0 309.3,112.7 309.6,113.8 309.9,116.2 310.2,117.5 310.5,119.1 310.8,119.9 311.1,123.0 311.4,122.8 311.7,123.5 312.0,124.5 312.3,123.4 312.6,122.2 312.9,121.0 313.2,120.6 313.5,121.2 313.8,120.7 314.1,118.0 314.4,118.9 314.7,118.5 315.0,117.1 315.3,120.8 315.6,121.8 315.9,123.3 316.2,126.5 316.5,129.7 316.8,130.2 317.1,133.6 317.4,134.9 317.7,141.1 318.0,141.6 318.3,144.7 318.6,144.4 318.9,147.0 319.2,150.5 319.5,146.5 319.8,146.6 320.1,147.3 320.4,146.5 320.7,145.1 321.0,147.6 321.3,145.6 321.6,142.5 321.9,143.9 322.2,144.6 322.5,150.2 322.8,152.8 323.1,157.2 323.4,162.5 323.7,165.8 324.0,164.0 324.3,161.1 324.6,161.9 324.9,160.5 325.2,157.0 325.5,156.4 325.8,154.6 326.1,152.8 326.4,147.7 326.7,147.6 327.0,148.2 327.3,147.5 327.6,146.6 327.9,141.6 328.2,142.2 328.5,142.0 328.8,144.3 329.1,141.8 329.4,142.2 329.7,143.2 330.0,145.0 330.3,144.5 330.6,145.5 330.9,143.3 331.2,143.5 331.5,142.3 331.8,142.4 332.1,141.1 332.4,139.3 332.7,141.6 333.0,141.2 333.3,139.8 333.6,140.0 333.9,140.8 334.2,138.4 334.5,138.4 334.8,139.0 335.1,138.9 335.4,137.6 335.7,136.0 336.0,140.0 336.3,140.9 336.6,141.4 336.9,140.6 337.2,140.0 337.5,138.4 337.8,136.4 338.1,135.4 338.4,134.5 338.7,134.0 339.0,133.4 339.3,135.6 339.6,134.0 339.9,136.0 340.2,134.7 340.5,136.1 340.8,137.9 341.1,137.2 341.4,135.6 341.7,135.7 342.0,135.7 342.3,133.2 342.6,133.5 342.9,134.3 343.2,133.6 343.5,133.9 343.8,134.6 344.1,134.7 344.4,134.7 344.7,134.1 345.0,132.7 345.3,132.3 345.6,131.7 345.9,130.1 346.2,128.9 346.5,125.5 346.8,125.3 347.1,124.7 347.4,122.4 347.7,123.8 348.0,125.3 348.3,125.3 348.6,128.5 348.9,123.9 349.2,125.7 349.5,124.6 349.8,127.0 350.1,129.7 350.4,123.6 350.7,124.5 351.0,125.0 351.3,124.9 351.6,128.7 351.9,128.4 352.2,134.2 352.5,137.5 352.8,136.5 353.1,133.2 353.4,131.9 353.7,128.4 354.0,126.5 354.3,123.8 354.6,120.4 354.9,121.6 355.2,121.8 355.5,122.0 355.8,119.4 356.1,119.1 356.4,119.3 356.7,118.4 357.0,119.3 357.3,120.3 357.6,116.3 357.9,113.2 358.2,115.6 358.5,117.0 358.8,116.3 359.1,115.6 359.4,113.0 359.7,111.6 360.0,112.9 360.3,110.5 360.6,108.0 360.9,107.9 361.2,112.3 361.5,112.7 361.8,109.1 362.1,108.1 362.4,109.2 362.7,108.4 363.0,111.2 363.3,110.3 363.6,108.8 363.9,111.7 364.2,110.3 364.5,110.4 364.8,109.8 365.1,108.9 365.4,109.2 365.7,107.5 366.0,105.1 366.3,103.4 366.6,103.8 366.9,104.8 367.2,107.0 367.5,108.4 367.8,110.0 368.1,110.5 368.4,109.4 368.7,108.3 369.0,105.4 369.3,106.7 369.6,107.6 369.9,107.5 370.2,106.0 370.5,104.9 370.8,105.8 371.1,104.5 371.4,104.8 371.7,104.3 372.0,103.3 372.3,104.2 372.6,101.4 372.9,100.4 373.2,100.5 373.5,101.1 373.8,105.3 374.1,107.6 374.4,106.5 374.7,107.4 375.0,109.2 375.3,108.5 375.6,107.7 375.9,103.1 376.2,101.6 376.5,101.8 376.8,102.5 377.1,100.0 377.4,99.9 377.7,101.7 378.0,103.0 378.3,104.3 378.6,109.2 378.9,109.1 379.2,110.1 379.5,113.5 379.8,113.5 380.1,112.6 380.4,111.1 380.7,112.2 381.0,114.5 381.3,114.1 381.6,114.4 381.9,111.4 382.2,110.0 382.5,107.4 382.8,106.4 383.1,106.2 383.4,103.1 383.7,105.0 384.0,106.9 384.3,107.1 384.6,108.3 384.9,111.1 385.2,112.6 385.5,109.8 385.8,107.2 386.1,102.6 386.4,104.8 386.7,101.9 387.0,101.6 387.3,100.1 387.6,101.3 387.9,100.4 388.2,102.0 388.5,103.4 388.8,103.4 389.1,104.0 389.4,102.8 389.7,105.9 390.0,104.3 390.3,102.3 390.6,104.2 390.9,104.3 391.2,104.2 391.5,102.9 391.8,102.1 392.1,98.3 392.4,97.2 392.7,97.7 393.0,97.1 393.3,95.3 393.6,94.8 393.9,94.0 394.2,93.5 394.5,94.2 394.8,92.7 395.1,88.3 395.4,90.0 395.7,88.9 396.0,90.5 396.3,88.7 396.6,90.0 396.9,94.0 397.2,90.9 397.5,90.0 397.8,88.9 398.1,86.5 398.4,86.1 398.7,88.9 399.0,88.0 399.3,85.5 399.6,84.8 399.9,87.7 400.2,86.3 400.5,86.2 400.8,87.0 401.1,88.7 401.4,89.9 401.7,88.9 402.0,87.4 402.3,87.0 402.6,89.5 402.9,89.9 403.2,87.5 403.5,88.0 403.8,88.0 404.1,87.5 404.4,86.1 404.7,84.1 405.0,84.4 405.3,82.6 405.6,86.1 405.9,86.0 406.2,82.9 406.5,85.7 406.8,85.6 407.1,81.6 407.4,86.7 407.7,87.2 408.0,89.8 408.3,86.0 408.6,87.1 408.9,86.8 409.2,86.1 409.5,85.4 409.8,86.2 410.1,82.9 410.4,82.4 410.7,82.1 411.0,83.5 411.3,84.0 411.6,85.9 411.9,86.6 412.2,86.6 412.5,85.7 412.8,85.4 413.1,86.4 413.4,85.7 413.7,83.7 414.0,81.6 414.3,82.7 414.6,78.5 414.9,77.9 415.2,77.4 415.5,73.6 415.8,72.8 416.1,68.0 416.4,69.3 416.7,68.6 417.0,65.2 417.3,67.7 417.6,65.8 417.9,68.7 418.2,66.2 418.5,66.1 418.8,69.8 419.1,72.0 419.4,72.3 419.7,69.2 420.0,68.8 420.3,66.2 420.6,65.5 420.9,60.2 421.2,64.8 421.5,64.3 421.8,60.8 422.1,62.1 422.4,62.7 422.7,63.5 423.0,59.5 423.3,62.0 423.6,59.3 423.9,62.2 424.2,61.5 424.5,66.0 424.8,67.2 425.1,65.8 425.4,68.1" fill="none" stroke="#0a7a0e" stroke-width="1.4" stroke-linejoin="round"/>
<line x1="520.8" y1="43.6" x2="621.5" y2="43.6" stroke="#d4d4d4" stroke-width="1"/>
<line x1="518.0" y1="43.6" x2="520.8" y2="43.6" stroke="#444" stroke-width="1"/>
<line x1="520.8" y1="71.5" x2="621.5" y2="71.5" stroke="#d4d4d4" stroke-width="1"/>
<line x1="518.0" y1="71.5" x2="520.8" y2="71.5" stroke="#444" stroke-width="1"/>
<line x1="520.8" y1="99.3" x2="621.5" y2="99.3" stroke="#d4d4d4" stroke-width="1"/>
<line x1="518.0" y1="99.3" x2="520.8" y2="99.3" stroke="#444" stroke-width="1"/>
<line x1="520.8" y1="127.2" x2="621.5" y2="127.2" stroke="#d4d4d4" stroke-width="1"/>
<line x1="518.0" y1="127.2" x2="520.8" y2="127.2" stroke="#444" stroke-width="1"/>
<text x="517.0" y="74.7" font-size="7" text-anchor="end" fill="#333" textLength="18.7" lengthAdjust="spacingAndGlyphs">150 %</text>
<text x="517.0" y="102.5" font-size="7" text-anchor="end" fill="#333" textLength="18.7" lengthAdjust="spacingAndGlyphs">100 %</text>
<text x="517.0" y="130.3" font-size="7" text-anchor="end" fill="#333" textLength="15.2" lengthAdjust="spacingAndGlyphs">50 %</text>
<rect x="540.4" y="54.7" width="27.5" height="100.3" fill="url(#gg)"/>
<rect x="574.0" y="77.0" width="27.3" height="78.0" fill="url(#bg)"/>
<line x1="520.8" y1="43.1" x2="520.8" y2="155.6" stroke="#444" stroke-width="1.1"/>
<line x1="520.3" y1="155.0" x2="621.5" y2="155.0" stroke="#444" stroke-width="1.2"/>
<text x="553.9" y="50.8" font-size="7" text-anchor="middle" fill="#333" textLength="22.4" lengthAdjust="spacingAndGlyphs">180.3 %</text>
<text x="587.7" y="73.2" font-size="7" text-anchor="middle" fill="#333" textLength="22.4" lengthAdjust="spacingAndGlyphs">140.1 %</text>
<text x="554.4" y="162.2" font-size="7" text-anchor="middle" fill="#222" stroke="#222" stroke-width="0.25" textLength="25" lengthAdjust="spacingAndGlyphs">Portfolio</text>
<text x="587.7" y="162.2" font-size="7" text-anchor="middle" fill="#222" stroke="#222" stroke-width="0.25" textLength="11.4" lengthAdjust="spacingAndGlyphs">QQQ</text>
<line x1="516.6" y1="190.0" x2="621.5" y2="190.0" stroke="#d4d4d4" stroke-width="1"/>
<line x1="513.8000000000001" y1="190.0" x2="516.6" y2="190.0" stroke="#444" stroke-width="1"/>
<line x1="516.6" y1="217.8" x2="621.5" y2="217.8" stroke="#d4d4d4" stroke-width="1"/>
<line x1="513.8000000000001" y1="217.8" x2="516.6" y2="217.8" stroke="#444" stroke-width="1"/>
<line x1="516.6" y1="245.5" x2="621.5" y2="245.5" stroke="#d4d4d4" stroke-width="1"/>
<line x1="513.8000000000001" y1="245.5" x2="516.6" y2="245.5" stroke="#444" stroke-width="1"/>
<line x1="516.6" y1="273.2" x2="621.5" y2="273.2" stroke="#d4d4d4" stroke-width="1"/>
<line x1="513.8000000000001" y1="273.2" x2="516.6" y2="273.2" stroke="#444" stroke-width="1"/>
<text x="512.7" y="220.9" font-size="7" text-anchor="end" fill="#333" textLength="15.2" lengthAdjust="spacingAndGlyphs">15 %</text>
<text x="512.7" y="248.7" font-size="7" text-anchor="end" fill="#333" textLength="15.2" lengthAdjust="spacingAndGlyphs">10 %</text>
<text x="512.7" y="276.4" font-size="7" text-anchor="end" fill="#333" textLength="11.4" lengthAdjust="spacingAndGlyphs">5 %</text>
<rect x="537.0" y="199.7" width="28.4" height="101.3" fill="url(#gg)"/>
<rect x="572.3" y="219.1" width="28.5" height="81.9" fill="url(#bg)"/>
<line x1="516.6" y1="189.5" x2="516.6" y2="301.6" stroke="#444" stroke-width="1.1"/>
<line x1="516.1" y1="301.0" x2="621.5" y2="301.0" stroke="#444" stroke-width="1.2"/>
<text x="551.2" y="196.0" font-size="7" text-anchor="middle" fill="#333" textLength="19" lengthAdjust="spacingAndGlyphs">18.3 %</text>
<text x="586.3" y="215.4" font-size="7" text-anchor="middle" fill="#333" textLength="19" lengthAdjust="spacingAndGlyphs">14.8 %</text>
<text x="551.4" y="308.2" font-size="7" text-anchor="middle" fill="#222" stroke="#222" stroke-width="0.25" textLength="25" lengthAdjust="spacingAndGlyphs">Portfolio</text>
<text x="586.3" y="308.2" font-size="7" text-anchor="middle" fill="#222" stroke="#222" stroke-width="0.25" textLength="11.4" lengthAdjust="spacingAndGlyphs">QQQ</text>
</svg>
<div id="h" class="abs">Summary Statistics</div>
<table>
<colgroup><col style="width:60.4px"><col style="width:69.6px"><col style="width:114.2px"><col style="width:118.6px"><col style="width:128px"><col style="width:130px"></colgroup>
<tr><th></th><th><span class="s">CAGR</span><svg class="q" width="8" height="8" viewBox="0 0 8 8"><circle cx="4" cy="4" r="3.8" fill="#1f7416"/><circle cx="4" cy="4" r="3.0" fill="#2d8c20"/><text x="4" y="6.4" font-size="6.6" font-weight="bold" text-anchor="middle" fill="#fff" font-family="Liberation Sans, sans-serif">?</text></svg></th><th><span class="s">Sharpe Ratio</span><svg class="q" width="8" height="8" viewBox="0 0 8 8"><circle cx="4" cy="4" r="3.8" fill="#1f7416"/><circle cx="4" cy="4" r="3.0" fill="#2d8c20"/><text x="4" y="6.4" font-size="6.6" font-weight="bold" text-anchor="middle" fill="#fff" font-family="Liberation Sans, sans-serif">?</text></svg></th><th><span class="s">QQQ Correlation</span></th><th><span class="s">Max Draw vs Start</span></th><th><span class="s">Max Drawdown</span><svg class="q" width="8" height="8" viewBox="0 0 8 8"><circle cx="4" cy="4" r="3.8" fill="#1f7416"/><circle cx="4" cy="4" r="3.0" fill="#2d8c20"/><text x="4" y="6.4" font-size="6.6" font-weight="bold" text-anchor="middle" fill="#fff" font-family="Liberation Sans, sans-serif">?</text></svg></th></tr>
<tr><td class="l"><span class="s">Portfolio</span></td><td><span class="s">+23.0%</span></td><td><span class="s">1.18</span></td><td><span class="s">+0.88</span></td><td><span class="s">-0.12 %</span></td><td class="d"><span class="s">-25.79%</span><span class="bar" style="width:18.2px;background:#0a800a"></span></td></tr>
<tr><td class="l"><span class="s">QQQ</span></td><td><span class="s">+19.2%</span></td><td><span class="s">1.21</span></td><td></td><td><span class="s">0.00 %</span></td><td class="d"><span class="s">-16.10%</span><span class="bar" style="width:10.9px;background:#6495ed"></span></td></tr>
</table>
</body></html>
